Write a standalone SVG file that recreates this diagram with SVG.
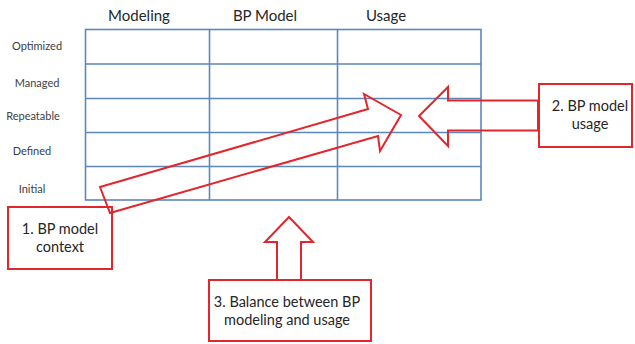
<svg xmlns="http://www.w3.org/2000/svg" width="635" height="344" viewBox="0 0 635 344">
<style>
.grid{stroke:#5b87bb;stroke-width:1.6;fill:none}
.red{stroke:#e3262b;stroke-width:2;fill:none}
.hdr{font-family:Lato,"Open Sans",sans-serif;font-size:15px;fill:#262626;text-anchor:middle}
.row{font-family:Lato,"Open Sans",sans-serif;font-size:11px;fill:#404040;text-anchor:middle}
.lbl{font-family:Lato,"Open Sans",sans-serif;font-size:14.5px;fill:#262626;text-anchor:middle}
</style>
<rect width="635" height="344" fill="#fff"/>
<g id="table">
<rect class="grid" x="85.5" y="29.5" width="395.5" height="170.5"/>
<path class="grid" d="M209.5 29.5V200M337.5 29.5V200M85.5 64H481M85.5 98.5H481M85.5 132.5H481M85.5 166.5H481"/>
<text class="hdr" x="139" y="21">Modeling</text>
<text class="hdr" x="265" y="21">BP Model</text>
<text class="hdr" x="386" y="21">Usage</text>
<text class="row" x="37" y="50">Optimized</text>
<text class="row" x="37" y="87">Managed</text>
<text class="row" x="33" y="120">Repeatable</text>
<text class="row" x="32" y="155">Defined</text>
<text class="row" x="32" y="193">Initial</text>
</g>
<g id="connectors">
<polygon class="red" points="100,187 368,109 364,94 401,115 380,151 378,136 110,213"/>
<polygon class="red" points="538,100.5 448,100.5 448,87 419,116 448,146 448,130.5 538,130.5"/>
<polygon class="red" points="277,280 277,242 265,242 289,217 313,242 301,242 301,280"/>
</g>
<g id="node1">
<rect class="red" x="8" y="207" width="104" height="62"/>
<text class="lbl" x="60" y="234">1. BP model</text>
<text class="lbl" x="60" y="252">context</text>
</g>
<g id="node2">
<rect class="red" x="539" y="84" width="93" height="63"/>
<text class="lbl" x="590" y="111">2. BP model</text>
<text class="lbl" x="590" y="129">usage</text>
</g>
<g id="node3">
<rect class="red" x="209" y="280" width="162" height="61"/>
<text class="lbl" x="287" y="307">3. Balance between BP</text>
<text class="lbl" x="287" y="325">modeling and usage</text>
</g>
</svg>
